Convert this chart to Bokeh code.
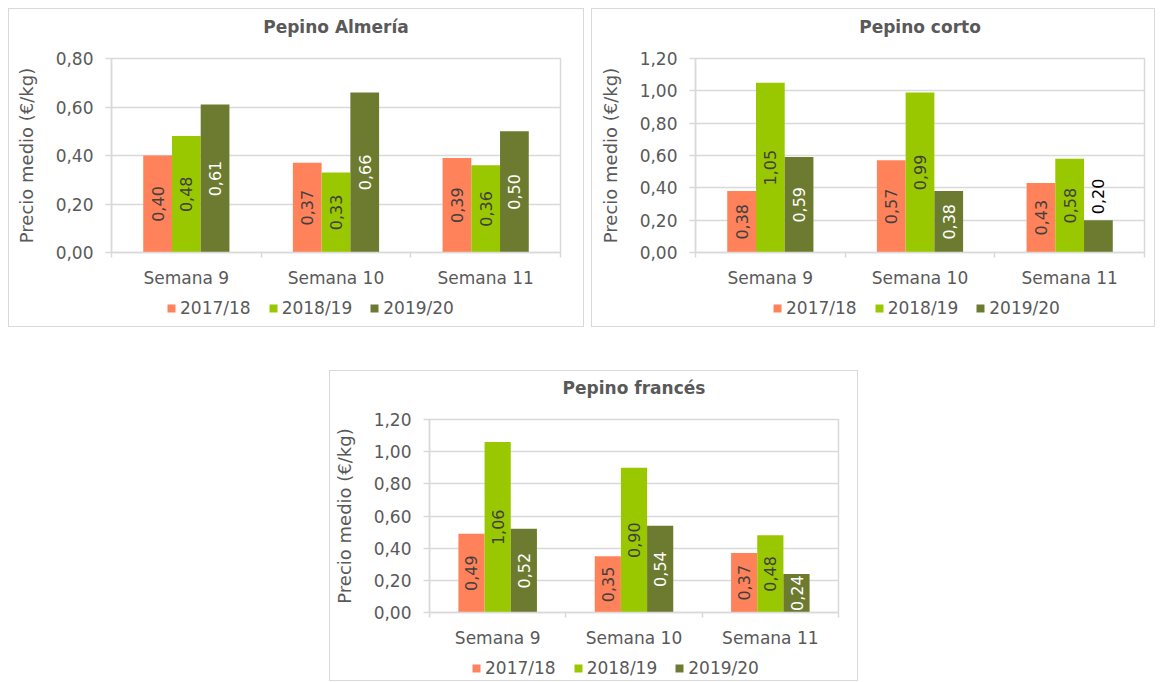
import math
from bokeh.plotting import figure
from bokeh.models import (Range1d, LinearAxis, FixedTicker, CustomJSTickFormatter,
                          Legend, LegendItem, ColumnDataSource, Spacer, Grid, Title)
from bokeh.layouts import column, row
from bokeh.embed import file_html
from bokeh.resources import INLINE
from bokeh.core.properties import value

# ---------------- data ----------------
weeks = ["Semana 9", "Semana 10", "Semana 11"]
seasons = ["2017/18", "2018/19", "2019/20"]

almeria_2017_18 = [0.40, 0.37, 0.39]
almeria_2018_19 = [0.48, 0.33, 0.36]
almeria_2019_20 = [0.61, 0.66, 0.50]

corto_2017_18 = [0.38, 0.57, 0.43]
corto_2018_19 = [1.05, 0.99, 0.58]
corto_2019_20 = [0.59, 0.38, 0.20]

frances_2017_18 = [0.49, 0.35, 0.37]
frances_2018_19 = [1.06, 0.90, 0.48]
frances_2019_20 = [0.52, 0.54, 0.24]

y_label = "Precio medio (€/kg)"

# ---------------- style ----------------
FONT = "DejaVu Sans"
TXT = "#595959"
GRID = "#d9d9d9"
COLORS = ["#FF825A", "#99C800", "#6C7B30"]
IN_LABEL_COLORS = ["#404040", "#404040", "#FFFFFF"]
BAR_W = 0.192
LABEL_LEN = 37  # approx pixel length of a rotated value label
Y_STEP = 0.2


def fmt(v):
    return f"{v:.2f}".replace(".", ",")


def bare_figure(width, height, **kw):
    p = figure(width=width, height=height, output_backend="svg", toolbar_location=None,
               x_axis_location=None, y_axis_location=None, **kw)
    p.center = [r for r in p.center if not isinstance(r, Grid)]
    p.background_fill_color = "white"
    p.border_fill_color = "white"
    return p


def make_chart(title, series, ymax, width, height, b_left, b_right, b_top, b_bottom,
               leg_height, leg_x, leg_y):
    p = bare_figure(width, height,
                    x_range=Range1d(0, len(weeks)), y_range=Range1d(0, ymax),
                    min_border_left=b_left, min_border_right=b_right,
                    min_border_top=b_top, min_border_bottom=b_bottom)
    p.outline_line_color = GRID
    p.outline_line_width = 1.5

    # small gap between the title and the plot area
    p.add_layout(Title(text=" ", text_font_size="14px", standoff=0), "above")
    p.title.text = title
    p.title.align = "center"
    p.title.text_font = FONT
    p.title.text_font_size = "17px"
    p.title.text_font_style = "bold"
    p.title.text_color = TXT
    p.title.standoff = 8

    frame_h = height - b_top - b_bottom
    px_per_unit = frame_h / ymax

    n_steps = int(round(ymax / Y_STEP))
    yt = FixedTicker(ticks=[round(k * Y_STEP, 2) for k in range(n_steps + 1)], minor_ticks=[])
    yax = LinearAxis(ticker=yt,
                     formatter=CustomJSTickFormatter(code="return tick.toFixed(2).replace('.', ',');"),
                     axis_label=y_label,
                     axis_label_text_font=FONT, axis_label_text_font_size="18px",
                     axis_label_text_font_style="normal", axis_label_text_color=TXT,
                     axis_label_standoff=16,
                     major_label_text_font=FONT, major_label_text_font_size="17px",
                     major_label_text_color=TXT, major_label_standoff=12,
                     major_tick_in=0, major_tick_out=6, major_tick_line_color=GRID,
                     major_tick_line_width=1.5,
                     minor_tick_line_color=None,
                     axis_line_color=GRID, axis_line_width=1.5)
    p.add_layout(yax, "left")
    p.add_layout(Grid(dimension=1, ticker=yt, grid_line_color=GRID, grid_line_width=1.5))

    n = len(weeks)
    xt = FixedTicker(ticks=[i + 0.5 for i in range(n)], minor_ticks=list(range(n + 1)))
    xax = LinearAxis(ticker=xt,
                     formatter=CustomJSTickFormatter(args=dict(labels=weeks),
                                                     code="return labels[Math.floor(tick)] || '';"),
                     major_label_text_font=FONT, major_label_text_font_size="17px",
                     major_label_text_color=TXT, major_label_standoff=10,
                     major_tick_in=0, major_tick_out=5, major_tick_line_color=None,
                     minor_tick_in=0, minor_tick_out=5, minor_tick_line_color=GRID,
                     minor_tick_line_width=1.5,
                     axis_line_color=GRID, axis_line_width=1.5)
    p.add_layout(xax, "below")

    # legend strip below the chart (its legend proxies are zero-height bars)
    lg = bare_figure(width, leg_height, x_range=Range1d(0, len(weeks)),
                     y_range=Range1d(0, ymax), min_border=0)
    lg.outline_line_color = None
    items = []

    lx, ly, lt, lc, la, lo = [], [], [], [], [], []
    for j, (season, vals) in enumerate(zip(seasons, series)):
        xs = [i + 0.5 + (j - 1) * BAR_W for i in range(n)]
        src = ColumnDataSource(dict(x=xs, top=vals))
        p.vbar(x="x", top="top", width=BAR_W, source=src,
               fill_color=COLORS[j], line_color=None)
        r = lg.vbar(x="x", top="top", bottom="top", width=BAR_W, source=src,
                    fill_color=COLORS[j], line_color=None)
        items.append(LegendItem(label=season, renderers=[r]))
        for x, v in zip(xs, vals):
            lx.append(x)
            lt.append(fmt(v))
            if v * px_per_unit < LABEL_LEN:
                ly.append(v)
                lc.append("#000000")
                la.append("left")
                lo.append(-6)
            else:
                ly.append(v / 2)
                lc.append(IN_LABEL_COLORS[j])
                la.append("center")
                lo.append(0)
    lsrc = ColumnDataSource(dict(x=lx, y=ly, text=lt, color=lc, align=la, yoff=lo))
    p.text(x="x", y="y", text="text", source=lsrc, angle=math.pi / 2,
           text_align="align", text_baseline="middle", y_offset="yoff",
           text_color="color", text_font=value(FONT), text_font_size="16px")

    legend = Legend(items=items, orientation="horizontal", location=(leg_x, leg_y),
                    glyph_width=10, glyph_height=10, label_standoff=4, spacing=17,
                    padding=0, margin=0, border_line_color=None,
                    background_fill_alpha=0,
                    label_text_font=FONT, label_text_font_size="17px",
                    label_text_color=TXT)
    lg.add_layout(legend, "center")

    box = column(p, lg, styles={"border": "1px solid #d9d9d9"})
    return box


c1 = make_chart("Pepino Almería", [almeria_2017_18, almeria_2018_19, almeria_2019_20],
                0.8, 574, 286, 102, 23, 49, 43, 31, 55, 8)
c2 = make_chart("Pepino corto", [corto_2017_18, corto_2018_19, corto_2019_20],
                1.2, 562, 286, 103, 10, 49, 43, 31, 77, 8)
c3 = make_chart("Pepino francés", [frances_2017_18, frances_2018_19, frances_2019_20],
                1.2, 527, 284, 94, 19, 48, 43, 25, 42, 2)

layout = column(Spacer(height=8),
                row(Spacer(width=8), c1, Spacer(width=7), c2),
                Spacer(height=43),
                row(Spacer(width=329), c3))

open("out.html", "w").write(file_html(layout, INLINE))
